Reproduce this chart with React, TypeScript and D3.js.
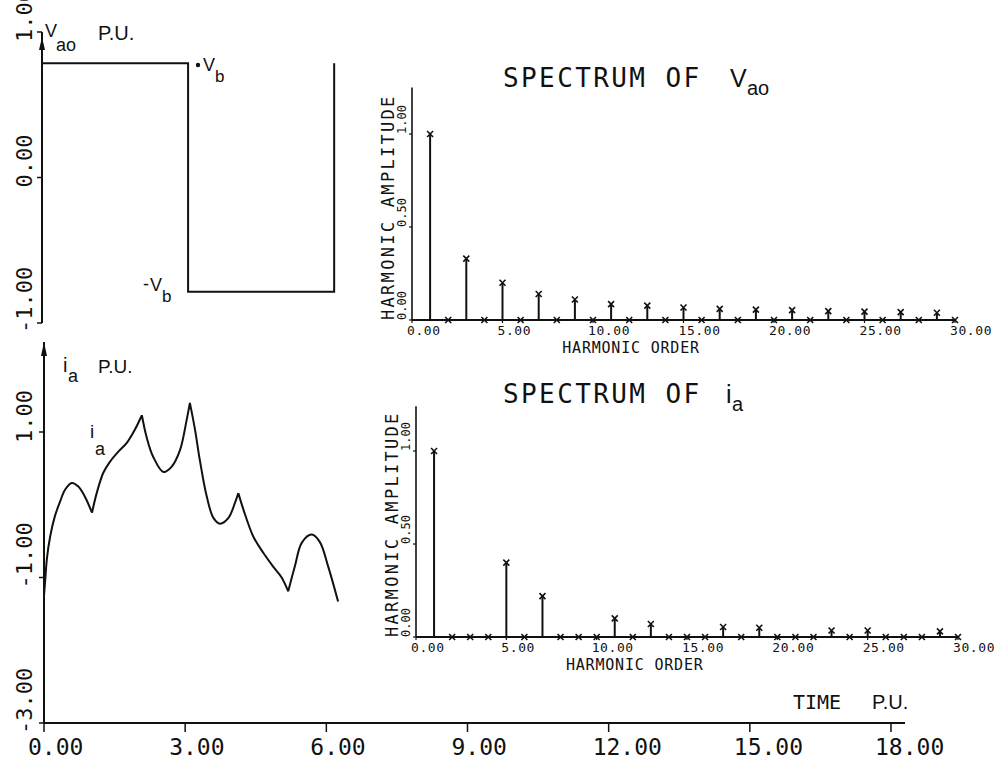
import React from 'react';
import * as d3 from 'd3';

// ---------- data ----------
const timeTicks = [0, 3, 6, 9, 12, 15, 18];
const timeTickLabels = ['0.00', '3.00', '6.00', '9.00', '12.00', '15.00', '18.00'];

const vaoTicks = [1, 0, -1];
const vaoTickLabels = ['1.00', '0.00', '-1.00'];
const iaTicks = [1, -1, -3];
const iaTickLabels = ['1.00', '-1.00', '-3.00'];

// square-wave phase voltage v_ao (P.U.)
const vaoTime = [0, 3.1416, 3.1416, 6.2832, 6.2832];
const vaoValue = [0.785, 0.785, -0.785, -0.785, 0.785];

// phase current i_a (P.U.)
const iaTime = [0, 0.03, 0.06, 0.13, 0.23, 0.34, 0.45, 0.59, 0.73, 0.87, 1.02,
  1.12, 1.26, 1.4, 1.58, 1.76, 1.93, 2.08,
  2.18, 2.32, 2.54, 2.71, 2.89, 3.03, 3.1,
  3.21, 3.31, 3.46, 3.6, 3.74, 3.92, 4.06, 4.13,
  4.24, 4.45, 4.66, 4.87, 5.05, 5.19,
  5.33, 5.48, 5.69, 5.86, 6.04, 6.25];
const iaValue = [-1.25, -1.0, -0.75, -0.44, -0.16, 0.04, 0.21, 0.3, 0.25, 0.11, -0.11,
  0.16, 0.44, 0.59, 0.73, 0.85, 1.03, 1.23,
  0.93, 0.66, 0.45, 0.52, 0.75, 1.16, 1.4,
  1.03, 0.62, 0.11, -0.18, -0.26, -0.18, 0.03, 0.16,
  -0.07, -0.44, -0.66, -0.85, -1.0, -1.19,
  -0.85, -0.52, -0.41, -0.51, -0.85, -1.33];
const iaCornerTimes = [1.02, 2.08, 3.1, 4.13, 5.19];

const harmonicOrders = [1, 2, 3, 4, 5, 6, 7, 8, 9, 10, 11, 12, 13, 14, 15,
  16, 17, 18, 19, 20, 21, 22, 23, 24, 25, 26, 27, 28, 29, 30];
const vaoSpectrum = [1.0, 0, 0.33, 0, 0.2, 0, 0.14, 0, 0.11, 0, 0.085, 0, 0.077, 0, 0.067,
  0, 0.06, 0, 0.056, 0, 0.053, 0, 0.048, 0, 0.045, 0, 0.042, 0, 0.039, 0];
const iaSpectrum = [1.0, 0, 0, 0, 0.4, 0, 0.22, 0, 0, 0, 0.1, 0, 0.07, 0, 0,
  0, 0.054, 0, 0.05, 0, 0, 0, 0.035, 0, 0.035, 0, 0, 0, 0.03, 0];

const harmonicTicks = [0, 5, 10, 15, 20, 25, 30];
const harmonicTickLabels = ['0.00', '5.00', '10.00', '15.00', '20.00', '25.00', '30.00'];
const amplitudeTicks = [0, 0.5, 1];
const amplitudeTickLabels = ['0.00', '0.50', '1.00'];

// ---------- styles ----------
const MONO = '"DejaVu Sans Mono", monospace';
const SANS = '"Liberation Sans", Arial, sans-serif';
const INK = '#111';

// ---------- scales ----------
const xTop = d3.scaleLinear().domain([0, 18]).range([42, 879]);
const yTop = d3.scaleLinear().domain([-1, 1]).range([323, 32]);
const xBot = d3.scaleLinear().domain([0, 18]).range([44, 891]);
const yBot = d3.scaleLinear().domain([-3, 1]).range([723, 432]);

function buildIaPath(): string {
  const pts: [number, number][] = iaTime.map((t, i) => [t, iaValue[i]]);
  const segs: [number, number][][] = [];
  let cur: [number, number][] = [];
  pts.forEach((p) => {
    cur.push(p);
    if (iaCornerTimes.includes(p[0])) {
      segs.push(cur);
      cur = [p];
    }
  });
  if (cur.length > 1) segs.push(cur);
  const line = d3.line<[number, number]>()
    .x((d) => xBot(d[0]))
    .y((d) => yBot(d[1]))
    .curve(d3.curveCatmullRom.alpha(0.5));
  return segs.map((s) => line(s) as string).join(' ');
}

function Spectrum(props: {
  x0: number; x1: number; yZero: number; yOne: number; yTopVal: number;
  amps: number[]; titleY: number; titleMain: string; symbol: string; sub: string;
  symbolX: number; subX: number;
}) {
  const { x0, x1, yZero, yOne, yTopVal, amps, titleY } = props;
  const x = d3.scaleLinear().domain([0, 30]).range([x0, x1]);
  const y = d3.scaleLinear().domain([0, 1]).range([yZero, yOne]);
  const ax = x(0);
  return (
    <g>
      <text x={503} y={titleY} fontFamily={MONO} fontSize={26} letterSpacing={2.4} fill={INK}>
        {props.titleMain}
      </text>
      <text x={props.symbolX} y={titleY} fontFamily={SANS} fontSize={25} fill={INK}>{props.symbol}</text>
      <text x={props.subX} y={titleY + 8} fontFamily={SANS} fontSize={20} fill={INK}>{props.sub}</text>
      {/* axes */}
      <line x1={ax} x2={ax} y1={y(0)} y2={y(yTopVal)} stroke={INK} strokeWidth={1.6} />
      <line x1={ax} x2={x(30)} y1={y(0)} y2={y(0)} stroke={INK} strokeWidth={1.8} />
      {amplitudeTicks.map((t, i) => (
        <g key={'yt' + i}>
          <line x1={ax - 3} x2={ax} y1={y(t)} y2={y(t)} stroke={INK} strokeWidth={1.2} />
          <text transform={`translate(${ax - 6},${y(t)}) rotate(-90)`} fontFamily={MONO}
            fontSize={12} fill={INK}>{amplitudeTickLabels[i]}</text>
        </g>
      ))}
      <text transform={`translate(${ax - 18},${y(0)}) rotate(-90)`} fontFamily={MONO}
        fontSize={17} letterSpacing={2.3} fill={INK}>HARMONIC AMPLITUDE</text>
      {harmonicTicks.map((t, i) => (
        <g key={'xt' + i}>
          <line x1={x(t)} x2={x(t)} y1={y(0)} y2={y(0) + 3} stroke={INK} strokeWidth={1.2} />
          <text x={x(t) - 5} y={y(0) + 15} fontFamily={MONO} fontSize={13} letterSpacing={0.6} fill={INK}>
            {harmonicTickLabels[i]}
          </text>
        </g>
      ))}
      <text x={x(8.3)} y={y(0) + 33} fontFamily={MONO}
        fontSize={15} letterSpacing={0.8} fill={INK}>HARMONIC ORDER</text>
      {/* stems */}
      {harmonicOrders.map((h, i) => {
        const px = x(h);
        const py = y(amps[i]);
        return (
          <g key={'h' + h}>
            {amps[i] > 0 && (
              <line x1={px} x2={px} y1={y(0)} y2={py} stroke={INK} strokeWidth={2} />
            )}
            <path d={`M${px - 3},${py - 3}L${px + 3},${py + 3}M${px + 3},${py - 3}L${px - 3},${py + 3}`}
              stroke={INK} strokeWidth={1.6} fill="none" />
          </g>
        );
      })}
    </g>
  );
}

export default function App() {
  const vaoLine = d3.line<number>()
    .x((_, i) => xTop(vaoTime[i]))
    .y((d) => yTop(d));
  const vaoPath = vaoLine(vaoValue) as string;
  const iaPath = buildIaPath();

  const axTop = xTop(0);
  const axBot = xBot(0);

  return (
    <svg width={994} height={761} style={{ position: 'absolute', left: 0, top: 0, background: '#fff' }}
      xmlns="http://www.w3.org/2000/svg">
      <rect x={0} y={0} width={994} height={761} fill="#fff" />

      {/* ---------- top-left: v_ao ---------- */}
      <line x1={axTop} x2={axTop} y1={yTop(-1)} y2={yTop(1)} stroke={INK} strokeWidth={2} />
      <path d={`M${axTop},${yTop(1) + 5}L${axTop - 3},${yTop(1) + 18}L${axTop + 3},${yTop(1) + 18}Z`} fill={INK} />
      {vaoTicks.map((t, i) => (
        <g key={'vt' + i}>
          <line x1={axTop - 5} x2={axTop} y1={yTop(t)} y2={yTop(t)} stroke={INK} strokeWidth={1.5} />
          <text transform={`translate(${32},${yTop(t) + 10}) rotate(-90)`} fontFamily={MONO}
            fontSize={22} fill={INK}>{vaoTickLabels[i]}</text>
        </g>
      ))}
      <path d={vaoPath} fill="none" stroke={INK} strokeWidth={2} />
      <text x={45} y={37} fontFamily={SANS} fontSize={18} fill={INK}>V</text>
      <text x={56} y={51} fontFamily={SANS} fontSize={18} fill={INK}>ao</text>
      <text x={98} y={40} fontFamily={SANS} fontSize={20} fill={INK}>P.U.</text>
      <circle cx={198} cy={65} r={2.2} fill={INK} />
      <text x={203} y={71} fontFamily={SANS} fontSize={18} fill={INK}>V</text>
      <text x={215} y={82} fontFamily={SANS} fontSize={17} fill={INK}>b</text>
      <text x={143} y={290} fontFamily={SANS} fontSize={18} fill={INK}>-</text>
      <text x={150} y={291} fontFamily={SANS} fontSize={18} fill={INK}>V</text>
      <text x={162} y={302} fontFamily={SANS} fontSize={17} fill={INK}>b</text>

      {/* ---------- bottom-left: i_a, shared time axis ---------- */}
      <line x1={axBot} x2={axBot} y1={yBot(-3)} y2={342} stroke={INK} strokeWidth={2} />
      <path d={`M${axBot},342L${axBot - 3},356L${axBot + 3},356Z`} fill={INK} />
      {iaTicks.map((t, i) => (
        <g key={'it' + i}>
          <line x1={axBot - 5} x2={axBot} y1={yBot(t)} y2={yBot(t)} stroke={INK} strokeWidth={1.5} />
          <text transform={`translate(${32},${yBot(t) + 11}) rotate(-90)`} fontFamily={MONO}
            fontSize={22} fill={INK}>{iaTickLabels[i]}</text>
        </g>
      ))}
      <line x1={axBot} x2={905} y1={yBot(-3)} y2={yBot(-3)} stroke={INK} strokeWidth={2} />
      {timeTicks.map((t, i) => (
        <g key={'tt' + i}>
          <line x1={xBot(t)} x2={xBot(t)} y1={yBot(-3)} y2={yBot(-3) + 9} stroke={INK} strokeWidth={1.5} />
          <text x={xBot(t) - 16} y={755} fontFamily={MONO} fontSize={23} fill={INK}>{timeTickLabels[i]}</text>
        </g>
      ))}
      <text x={793} y={709} fontFamily={MONO} fontSize={20} fill={INK}>TIME</text>
      <text x={872} y={709} fontFamily={SANS} fontSize={20} fill={INK}>P.U.</text>
      <path d={iaPath} fill="none" stroke={INK} strokeWidth={2} />
      <text x={63} y={372} fontFamily={SANS} fontSize={20} fill={INK}>i</text>
      <text x={68} y={382} fontFamily={SANS} fontSize={18} fill={INK}>a</text>
      <text x={98} y={373} fontFamily={SANS} fontSize={19} fill={INK}>P.U.</text>
      <text x={90} y={438} fontFamily={SANS} fontSize={19} fill={INK}>i</text>
      <text x={95} y={455} fontFamily={SANS} fontSize={18} fill={INK}>a</text>

      {/* ---------- spectra ---------- */}
      <Spectrum x0={412} x1={955} yZero={320} yOne={134} yTopVal={1.25} amps={vaoSpectrum}
        titleY={87} titleMain="SPECTRUM OF" symbol="V" sub="ao" symbolX={730} subX={747} />
      <Spectrum x0={416} x1={958} yZero={637} yOne={451} yTopVal={1.24} amps={iaSpectrum}
        titleY={403} titleMain="SPECTRUM OF" symbol="i" sub="a" symbolX={726} subX={732} />
    </svg>
  );
}
